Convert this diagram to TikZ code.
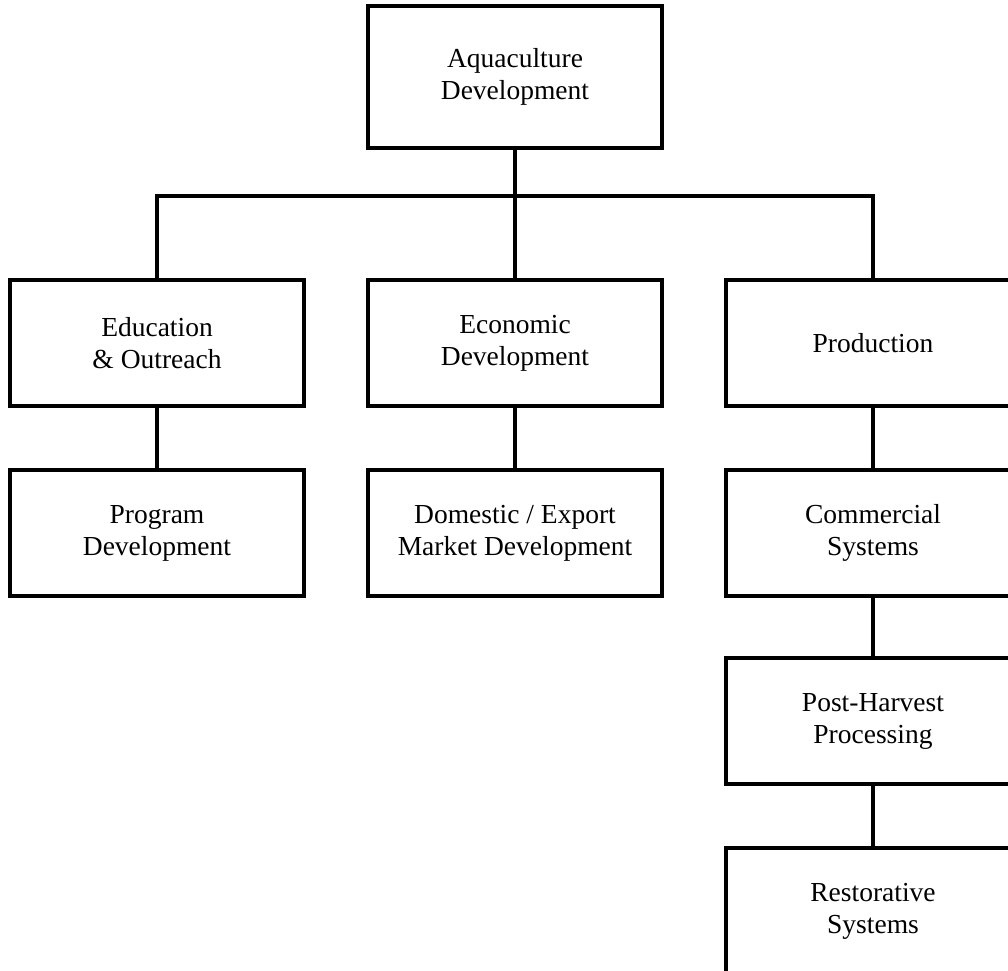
\documentclass[tikz,border=0pt]{standalone}
\usepackage{fontspec}
\setmainfont{Liberation Serif}
\begin{document}
\begin{tikzpicture}[x=1pt,y=-1pt,
  orgbox/.style={draw=black, line width=3.5pt, fill=white, minimum width=294pt, minimum height=126pt,
    align=center, inner sep=0pt, font=\fontsize{27.5}{32}\selectfont},
  link/.style={draw=black, line width=3.5pt}]
\useasboundingbox (0,0) rectangle (1008,970);
\clip (0,0) rectangle (1008,970);
\fill[white] (0,0) rectangle (1008,970);
\node[orgbox, minimum height=142pt] (top) at (515,77) {Aquaculture\\Development};
\node[orgbox] (edu) at (157,343) {Education\\\& Outreach};
\node[orgbox] (econ) at (515,343) {Economic\\Development};
\node[orgbox] (prod) at (873,343) {Production};
\node[orgbox] (prog) at (157,533) {Program\\Development};
\node[orgbox] (dom) at (515,533) {Domestic / Export\\Market Development};
\node[orgbox] (comm) at (873,533) {Commercial\\Systems};
\node[orgbox] (post) at (873,721) {Post-Harvest\\Processing};
\node[orgbox] (rest) at (873,911) {Restorative\\Systems};
\coordinate (bus) at (515,196);
\draw[link] (top.south) -- (bus);
\draw[link] (edu.north) |- (bus) -| (prod.north);
\draw[link] (bus) -- (econ.north);
\draw[link] (edu.south) -- (prog.north);
\draw[link] (econ.south) -- (dom.north);
\draw[link] (prod.south) -- (comm.north);
\draw[link] (comm.south) -- (post.north);
\draw[link] (post.south) -- (rest.north);
\end{tikzpicture}
\end{document}
